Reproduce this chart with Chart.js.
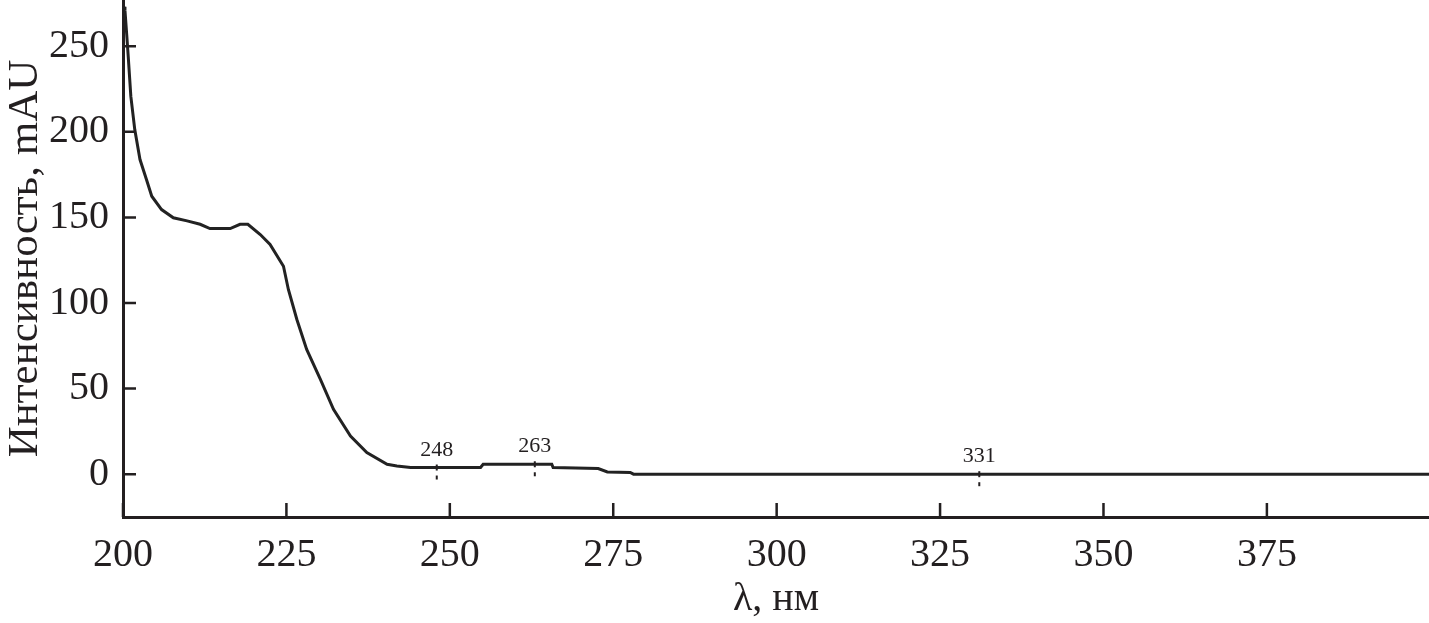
<!DOCTYPE html>
<html>
<head>
	<meta charset="UTF-8">
	<title>Спектр</title>
	<script src="https://cdn.jsdelivr.net/npm/chart.js@4/dist/chart.umd.min.js"></script>
	<style>
		html, body { margin: 0; padding: 0; background: #fff; }
		#wrap { width: 1429px; height: 623px; }
	</style>
</head>
<body>
	<div id="wrap"><canvas id="spectrum"></canvas></div>
<script>
	// wavelengths (nm) and intensities (mAU)
	var wavelengths = [200.2, 200.3, 200.57, 200.8, 201.2, 201.8, 202.6, 203.6, 204.4, 205.9,
		207.7, 209.8, 211.8, 213.3, 216.4, 217.9, 219.1, 221.0, 222.5, 224.55,
		225.3, 226.6, 228.1, 230.2, 232.2, 234.8, 237.3, 240.4, 241.9, 244.0,
		254.7, 255.1, 265.6, 265.8, 272.7, 274.1, 277.6, 278.1, 400];
	var intensity = [273, 271, 256.7, 244, 220.7, 201.3, 183.8, 172, 162.4, 154.6,
		149.8, 148, 146, 143.5, 143.5, 146, 146, 140, 134.2, 121.5,
		107.9, 90.4, 72.9, 55.4, 37.9, 22.3, 12.7, 5.8, 4.8, 3.9,
		3.9, 5.8, 5.8, 3.9, 3.3, 1.3, 1.0, 0, 0];
	var peaks = [248, 263, 331];
	var peakValues = [3.9, 5.8, 0];
	var xTicks = [200, 225, 250, 275, 300, 325, 350, 375];
	var yTicks = [0, 50, 100, 150, 200, 250];

	var ink = '#231f20';
	var serif = '"Liberation Serif", "DejaVu Serif", serif';

	var points = [];
	for (var i = 0; i < wavelengths.length; i++) {
		points.push({ x: wavelengths[i], y: intensity[i] });
	}

	// ticks pointing into the plot + peak labels
	var extras = {
		id: 'extras',
		afterDraw: function (chart) {
			var ctx = chart.ctx;
			var xs = chart.scales.x, ys = chart.scales.y;
			var area = chart.chartArea;
			ctx.save();
			ctx.strokeStyle = ink;
			ctx.lineWidth = 2.5;
			ctx.beginPath();
			xTicks.forEach(function (v) {
				var px = xs.getPixelForValue(v);
				ctx.moveTo(px, area.bottom);
				ctx.lineTo(px, area.bottom - 14);
			});
			yTicks.forEach(function (v) {
				var py = ys.getPixelForValue(v);
				ctx.moveTo(area.left, py);
				ctx.lineTo(area.left + 13, py);
			});
			ctx.stroke();

			ctx.fillStyle = ink;
			ctx.font = '22px ' + serif;
			ctx.textAlign = 'center';
			ctx.textBaseline = 'alphabetic';
			for (var k = 0; k < peaks.length; k++) {
				var px = xs.getPixelForValue(peaks[k]);
				var py = ys.getPixelForValue(peakValues[k]);
				ctx.fillText(String(peaks[k]), px, py - 12);
				ctx.fillRect(px - 1, py - 3, 2, 6);
				ctx.fillRect(px - 1, py + 8, 2, 4);
			}
			ctx.restore();
		}
	};

	function fixTicks(list) {
		return function (s) {
			s.ticks = list.map(function (v) { return { value: v }; });
		};
	}

	var ctx = document.getElementById('spectrum').getContext('2d');
	var chart = new Chart(ctx, {
		type: 'line',
		data: {
			datasets: [{
				data: points,
				borderColor: '#222',
				borderWidth: 3,
				pointRadius: 0,
				tension: 0,
				fill: false
			}]
		},
		options: {
			responsive: true,
			maintainAspectRatio: false,
			animation: false,
			layout: { padding: 0 },
			plugins: { legend: { display: false }, tooltip: { enabled: false } },
			scales: {
				x: {
					type: 'linear',
					min: 200,
					max: 399.8,
					afterBuildTicks: fixTicks(xTicks),
					afterFit: function (s) {
						s.height = 106;
						s.paddingLeft = 0;
						s.paddingRight = 0;
					},
					grid: { display: true, drawOnChartArea: false, drawTicks: false },
					border: { display: true, color: ink, width: 3 },
					ticks: {
						padding: 14,
						color: ink,
						maxRotation: 0,
						autoSkip: false,
						font: { family: serif, size: 40 }
					},
					title: {
						display: true,
						text: 'λ, нм',
						color: ink,
						padding: { top: 0, bottom: 0 },
						font: { family: serif, size: 40 }
					}
				},
				y: {
					min: -25,
					max: 277,
					afterBuildTicks: fixTicks(yTicks),
					afterFit: function (s) {
						s.width = 123;
						s.paddingTop = 0;
						s.paddingBottom = 0;
					},
					grid: { display: true, drawOnChartArea: false, drawTicks: false },
					border: { display: true, color: ink, width: 3 },
					ticks: {
						padding: 14,
						color: ink,
						autoSkip: false,
						font: { family: serif, size: 40 }
					},
					title: {
						display: true,
						text: 'Интенсивность, mAU',
						color: ink,
						padding: { top: 0, bottom: 0 },
						font: { family: serif, size: 43 }
					}
				}
			}
		},
		plugins: [extras]
	});
</script>
</body>
</html>
